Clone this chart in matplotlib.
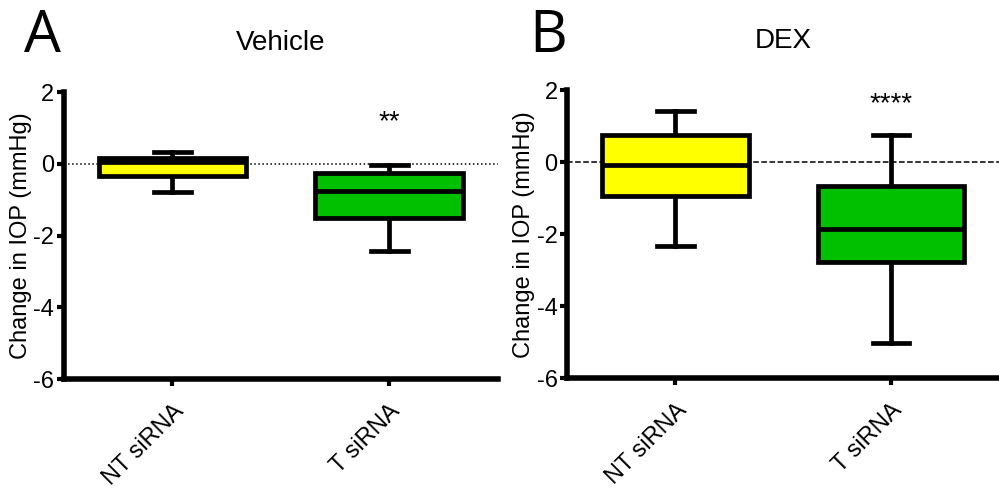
import matplotlib.pyplot as plt

plt.rcParams['font.family'] = ['Liberation Sans', 'DejaVu Sans']

groups = ["NT siRNA", "T siRNA"]
box_colors = ["#FFFF00", "#00C000"]

# Vehicle: whisker low, q1, median, q3, whisker high
veh_whislo = [-0.78, -2.43]
veh_q1 = [-0.33, -1.52]
veh_med = [0.06, -0.77]
veh_q3 = [0.16, -0.25]
veh_whishi = [0.33, -0.03]
veh_stars = ["", "**"]

# DEX
dex_whislo = [-2.33, -5.03]
dex_q1 = [-0.93, -2.78]
dex_med = [-0.09, -1.85]
dex_q3 = [0.74, -0.65]
dex_whishi = [1.43, 0.76]
dex_stars = ["", "****"]

y_ticks = [-6, -4, -2, 0, 2]


def draw_panel(ax, title, whislo, q1, med, q3, whishi, stars, ref_style, star_y):
    stats = []
    for i in range(len(groups)):
        stats.append(dict(label=groups[i], whislo=whislo[i], q1=q1[i], med=med[i],
                          q3=q3[i], whishi=whishi[i], fliers=[]))
    bp = ax.bxp(stats, positions=[1, 2], widths=0.68, capwidths=0.17,
                patch_artist=True, showfliers=False,
                boxprops=dict(linewidth=3.4, edgecolor='black'),
                medianprops=dict(color='black', linewidth=3.4, zorder=4),
                whiskerprops=dict(color='black', linewidth=3.4),
                capprops=dict(color='black', linewidth=3.4))
    for patch, c in zip(bp['boxes'], box_colors):
        patch.set_facecolor(c)
        patch.set_zorder(3)
    ax.axhline(0, color='black', linestyle=ref_style, linewidth=1.1, zorder=1)

    for i, s in enumerate(stars):
        if s:
            ax.text(i + 1, star_y, s, ha='center', va='center', fontsize=20)

    ax.set_xlim(0.5, 2.5)
    ax.set_ylim(-6, 2)
    ax.set_yticks(y_ticks)
    ax.set_yticklabels([str(t) for t in y_ticks])
    ax.set_xticks([1, 2])
    ax.set_xticklabels(groups, rotation=45, ha='right', rotation_mode='anchor')
    ax.tick_params(axis='both', labelsize=17, width=3, length=5, pad=2)
    ax.tick_params(axis='x', pad=10)
    for sp in ['top', 'right']:
        ax.spines[sp].set_visible(False)
    for sp in ['left', 'bottom']:
        ax.spines[sp].set_linewidth(4)
    ax.set_ylabel("Change in IOP (mmHg)", fontsize=17, labelpad=1)
    ax.set_title(title, fontsize=20, pad=30)


fig = plt.figure(figsize=(9.99, 4.95), dpi=100)
ax1 = fig.add_axes([0.064, 0.234, 0.434, 0.58])
ax2 = fig.add_axes([0.568, 0.236, 0.432, 0.582])

draw_panel(ax1, "Vehicle", veh_whislo, veh_q1, veh_med, veh_q3, veh_whishi,
           veh_stars, ':', 1.15)
draw_panel(ax2, "DEX", dex_whislo, dex_q1, dex_med, dex_q3, dex_whishi,
           dex_stars, '--', 1.62)

fig.text(0.042, 0.925, "A", fontsize=42, ha='center', va='center', family='Open Sans')
fig.text(0.549, 0.925, "B", fontsize=42, ha='center', va='center', family='Open Sans')

fig.savefig("out.png", dpi=100)
